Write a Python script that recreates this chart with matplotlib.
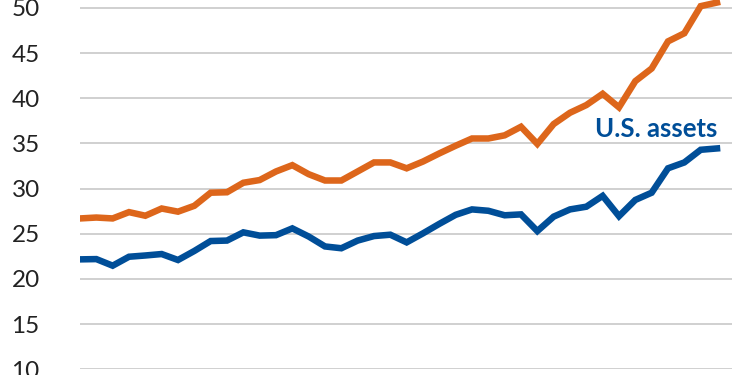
import numpy as np
import matplotlib
matplotlib.use("Agg")
import matplotlib.pyplot as plt

# values (40 periods)
periods = list(range(40))
total_assets = [26.7, 26.8, 26.7, 27.4, 27.0, 27.8, 27.45, 28.1, 29.55, 29.6,
                30.65, 30.95, 31.9, 32.6, 31.6, 30.9, 30.9, 31.9, 32.9, 32.9,
                32.25, 33.0, 33.9, 34.75, 35.55, 35.55, 35.9, 36.85, 34.95, 37.15,
                38.4, 39.25, 40.5, 39.0, 41.9, 43.3, 46.3, 47.2, 50.2, 50.6]
us_assets = [22.17, 22.2, 21.47, 22.46, 22.6, 22.76, 22.1, 23.1, 24.2, 24.25,
             25.16, 24.8, 24.85, 25.6, 24.7, 23.6, 23.4, 24.25, 24.75, 24.9,
             24.05, 25.05, 26.1, 27.1, 27.7, 27.55, 27.05, 27.15, 25.3, 26.9,
             27.7, 28.0, 29.2, 26.95, 28.75, 29.55, 32.25, 32.9, 34.3, 34.45]
y_ticks = [10, 15, 20, 25, 30, 35, 40, 45, 50, 55]

orange = "#DD661B"
blue = "#004E98"

fig = plt.figure(figsize=(7.5, 3.75), dpi=100)
# axes stretched past the figure edges so the picture is cropped like the reference
ax = fig.add_axes([80 / 750, 5.7 / 375, 651.7 / 750, 406.5 / 375])
ax.set_xlim(0, 39.9)
ax.set_ylim(10, 55)

ax.plot(periods, total_assets, color=orange, lw=4.7, solid_joinstyle="miter", zorder=3)
ax.plot(periods, us_assets, color=blue, lw=4.7, solid_joinstyle="miter", zorder=3)

ax.text(31.55, 36.6, "U.S. assets", color=blue, fontsize=18.5, fontweight="bold",
        family=["Lato", "DejaVu Sans"], va="center", ha="left")

ax.set_yticks(y_ticks)
ax.set_yticklabels([str(v) for v in y_ticks], fontsize=17.5, family=["Lato", "DejaVu Sans"],
                   color="#222222")
ax.tick_params(axis="y", length=0, pad=29)
ax.set_xticks([])
ax.grid(axis="y", color="#C4C4C4", lw=1.1)
for s in ax.spines.values():
    s.set_visible(False)

fig.savefig("out.png", dpi=100)
